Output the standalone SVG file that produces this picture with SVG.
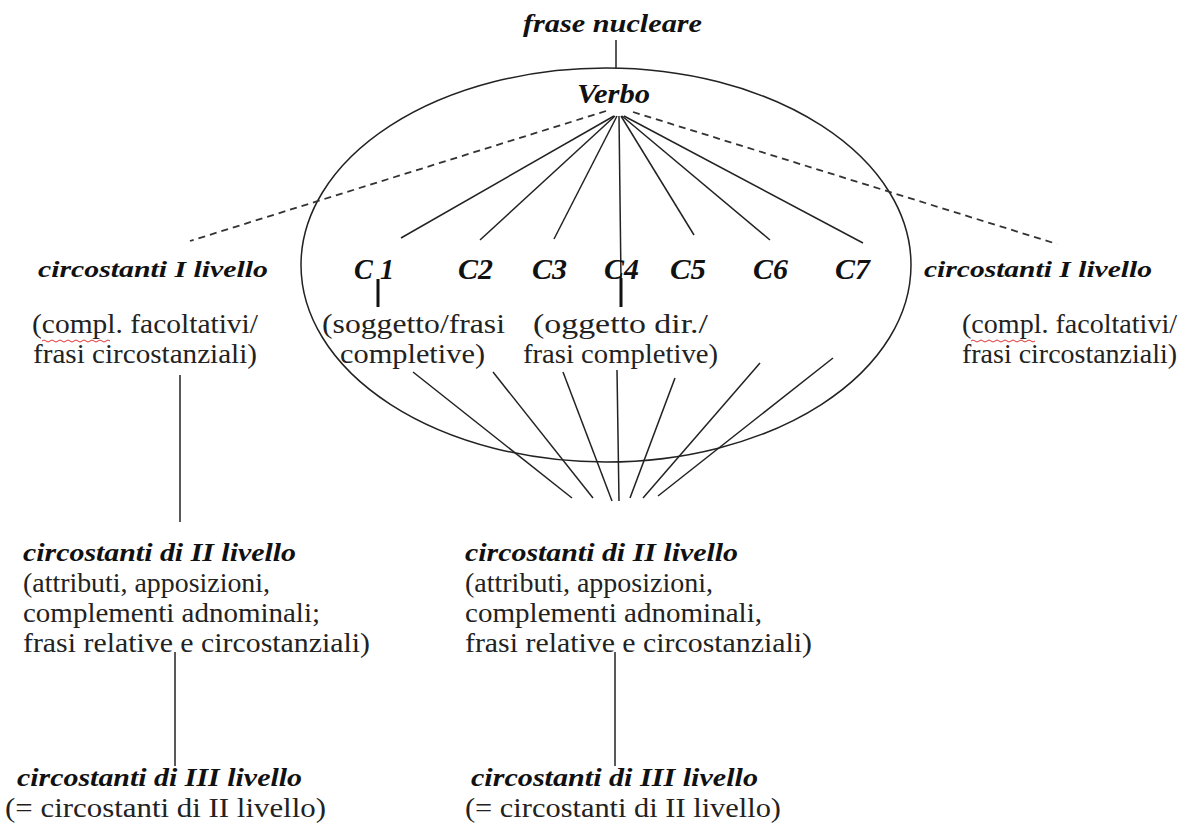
<svg xmlns="http://www.w3.org/2000/svg" width="1195" height="823" viewBox="0 0 1195 823">
<style>
.bi{font-family:"Liberation Serif","Times New Roman",serif;font-weight:bold;font-style:italic;fill:#111}
.r{font-family:"Liberation Serif","Times New Roman",serif;fill:#222}
.ln{stroke:#222;stroke-width:1.5;fill:none}
.th{stroke:#111;stroke-width:3;fill:none}
.ds{stroke:#333;stroke-width:1.8;stroke-dasharray:7,5;fill:none}
.sq{stroke:#d33;stroke-width:1;fill:none}
</style>
<rect width="1195" height="823" fill="#fff"/>
<g id="connectors">
<line class="ln" x1="616" y1="40" x2="616" y2="68"/>
<ellipse class="ln" cx="606" cy="265" rx="305" ry="197"/>
<line class="ds" x1="606" y1="111" x2="190" y2="241"/>
<line class="ds" x1="633" y1="112" x2="1057" y2="244"/>
<line class="ln" x1="614" y1="116" x2="401" y2="238"/>
<line class="ln" x1="615" y1="116" x2="480" y2="240"/>
<line class="ln" x1="617" y1="116" x2="554" y2="239"/>
<line class="ln" x1="619" y1="116" x2="621" y2="280"/>
<line class="th" x1="621" y1="278" x2="621" y2="307"/>
<line class="ln" x1="621" y1="116" x2="694" y2="235"/>
<line class="ln" x1="622" y1="116" x2="770" y2="240"/>
<line class="ln" x1="624" y1="116" x2="863" y2="243"/>
<line class="th" x1="378" y1="279" x2="378" y2="307"/>
<line class="ln" x1="413" y1="372" x2="572" y2="498"/>
<line class="ln" x1="493" y1="372" x2="593" y2="498"/>
<line class="ln" x1="563" y1="372" x2="612" y2="501"/>
<line class="ln" x1="617" y1="370" x2="619" y2="501"/>
<line class="ln" x1="675" y1="378" x2="630" y2="498"/>
<line class="ln" x1="760" y1="363" x2="643" y2="498"/>
<line class="ln" x1="833" y1="358" x2="658" y2="496"/>
<line class="ln" x1="180" y1="375" x2="180" y2="522"/>
<line class="ln" x1="175" y1="652" x2="175" y2="766"/>
<line class="ln" x1="615" y1="652" x2="615" y2="766"/>
</g>
<g id="frase-nucleare"><text class="bi" x="523" y="32" font-size="25" textLength="179" lengthAdjust="spacingAndGlyphs">frase nucleare</text></g>
<g id="verbo"><text class="bi" x="577" y="103" font-size="28" textLength="73" lengthAdjust="spacingAndGlyphs">Verbo</text></g>
<g id="c1"><text class="bi" x="354" y="279" font-size="29" textLength="40" lengthAdjust="spacingAndGlyphs">C 1</text></g>
<g id="c2"><text class="bi" x="458" y="279" font-size="29" textLength="35" lengthAdjust="spacingAndGlyphs">C2</text></g>
<g id="c3"><text class="bi" x="532" y="279" font-size="29" textLength="35" lengthAdjust="spacingAndGlyphs">C3</text></g>
<g id="c4"><text class="bi" x="604" y="279" font-size="29" textLength="35" lengthAdjust="spacingAndGlyphs">C4</text></g>
<g id="c5"><text class="bi" x="670" y="279" font-size="29" textLength="36" lengthAdjust="spacingAndGlyphs">C5</text></g>
<g id="c6"><text class="bi" x="753" y="279" font-size="29" textLength="35" lengthAdjust="spacingAndGlyphs">C6</text></g>
<g id="c7"><text class="bi" x="835" y="279" font-size="29" textLength="35" lengthAdjust="spacingAndGlyphs">C7</text></g>
<g id="c1-desc">
<text class="r" x="322" y="333" font-size="27" textLength="183" lengthAdjust="spacingAndGlyphs">(soggetto/frasi</text>
<text class="r" x="340" y="363" font-size="27" textLength="145" lengthAdjust="spacingAndGlyphs">completive)</text>
</g>
<g id="c4-desc">
<text class="r" x="533" y="333" font-size="27" textLength="175" lengthAdjust="spacingAndGlyphs">(oggetto dir./</text>
<text class="r" x="523" y="363" font-size="27" textLength="195" lengthAdjust="spacingAndGlyphs">frasi completive)</text>
</g>
<g id="circ1-left">
<text class="bi" x="38" y="277" font-size="23" textLength="230" lengthAdjust="spacingAndGlyphs">circostanti I livello</text>
<text class="r" x="32" y="333" font-size="27" textLength="226" lengthAdjust="spacingAndGlyphs">(compl. facoltativi/</text>
<text class="r" x="33" y="363" font-size="27" textLength="224" lengthAdjust="spacingAndGlyphs">frasi circostanziali)</text>
<path class="sq" d="M42 341 q2 -2 4 0 t4 0 t4 0 t4 0 t4 0 t4 0 t4 0 t4 0 t4 0 t4 0 t4 0 t4 0 t4 0 t4 0 t4 0 t4 0 t4 0"/>
</g>
<g id="circ1-right">
<text class="bi" x="924" y="277" font-size="23" textLength="228" lengthAdjust="spacingAndGlyphs">circostanti I livello</text>
<text class="r" x="962" y="333" font-size="27" textLength="215" lengthAdjust="spacingAndGlyphs">(compl. facoltativi/</text>
<text class="r" x="962" y="363" font-size="27" textLength="215" lengthAdjust="spacingAndGlyphs">frasi circostanziali)</text>
<path class="sq" d="M971 341 q2 -2 4 0 t4 0 t4 0 t4 0 t4 0 t4 0 t4 0 t4 0 t4 0 t4 0 t4 0 t4 0 t4 0 t4 0 t4 0 t4 0"/>
</g>
<g id="circ2-left">
<text class="bi" x="23" y="561" font-size="25" textLength="273" lengthAdjust="spacingAndGlyphs">circostanti di II livello</text>
<text class="r" x="23" y="592" font-size="27" textLength="247" lengthAdjust="spacingAndGlyphs">(attributi, apposizioni,</text>
<text class="r" x="23" y="622" font-size="27" textLength="297" lengthAdjust="spacingAndGlyphs">complementi adnominali;</text>
<text class="r" x="23" y="652" font-size="27" textLength="347" lengthAdjust="spacingAndGlyphs">frasi relative e circostanziali)</text>
</g>
<g id="circ2-right">
<text class="bi" x="465" y="561" font-size="25" textLength="273" lengthAdjust="spacingAndGlyphs">circostanti di II livello</text>
<text class="r" x="465" y="592" font-size="27" textLength="248" lengthAdjust="spacingAndGlyphs">(attributi, apposizioni,</text>
<text class="r" x="465" y="622" font-size="27" textLength="297" lengthAdjust="spacingAndGlyphs">complementi adnominali,</text>
<text class="r" x="465" y="652" font-size="27" textLength="347" lengthAdjust="spacingAndGlyphs">frasi relative e circostanziali)</text>
</g>
<g id="circ3-left">
<text class="bi" x="17" y="786" font-size="25" textLength="285" lengthAdjust="spacingAndGlyphs">circostanti di III livello</text>
<text class="r" x="5" y="817" font-size="27" textLength="321" lengthAdjust="spacingAndGlyphs">(= circostanti di II livello)</text>
</g>
<g id="circ3-right">
<text class="bi" x="471" y="786" font-size="25" textLength="287" lengthAdjust="spacingAndGlyphs">circostanti di III livello</text>
<text class="r" x="465" y="817" font-size="27" textLength="316" lengthAdjust="spacingAndGlyphs">(= circostanti di II livello)</text>
</g>
</svg>
